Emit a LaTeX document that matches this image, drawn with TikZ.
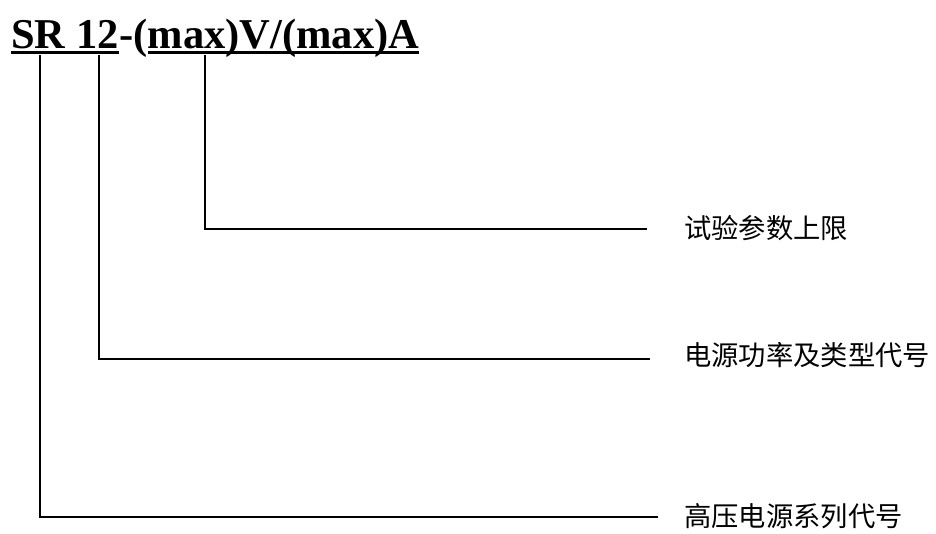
\documentclass[tikz,border=0pt]{standalone}
\usepackage{fontspec}
\setmainfont{Liberation Serif}
\newfontfamily\cjk{Noto Sans CJK SC}
\begin{document}
\begin{tikzpicture}[x=1pt,y=-1pt,
  titletext/.style={inner sep=0pt,anchor=base west,font=\fontsize{42.5}{48}\selectfont\bfseries},
  lbl/.style={inner sep=0pt,anchor=west,font=\fontsize{27.3}{30}\selectfont\cjk},
  uline/.style={line width=2.6pt},
  conn/.style={line width=2pt}]
\useasboundingbox (0,0) rectangle (936,533);
% title
\node[titletext] (t1) at (11,48) {SR 12};
\node[titletext,anchor=base west] (t2) at (t1.base east) {-(};
\node[titletext,anchor=base west] (t3) at (t2.base east) {max)V/(max)A};
\draw[uline] ([yshift=-4.5pt]t1.base west) -- ([yshift=-4.5pt]t1.base east);
\draw[uline] ([yshift=-4.5pt]t3.base west) -- ([yshift=-4.5pt]t3.base east);
% labels
\node[lbl] (l1) at (684,228) {试验参数上限};
\node[lbl] (l2) at (684,355) {电源功率及类型代号};
\node[lbl] (l3) at (684,516) {高压电源系列代号};
% connector coordinates
\coordinate (v1) at (205,55);
\coordinate (v2) at (99,55);
\coordinate (v3) at (39.5,55);
\coordinate (e1) at (647,229);
\coordinate (e2) at (650,359);
\coordinate (e3) at (658,517);
\draw[conn] (v1) |- (e1);
\draw[conn] (v2) |- (e2);
\draw[conn] (v3) |- (e3);
\end{tikzpicture}
\end{document}
